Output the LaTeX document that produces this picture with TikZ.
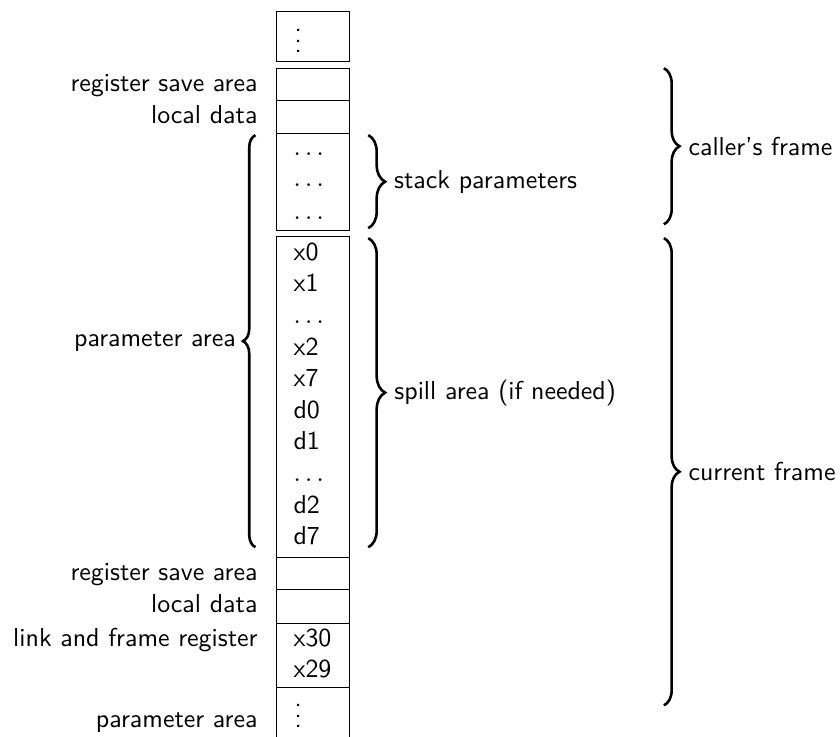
\documentclass[tikz,border=0pt]{standalone}
\usepackage{tikz}
\usetikzlibrary{decorations.pathreplacing}

\begin{document}
\begin{tikzpicture}[x=1pt, y=-1pt, font=\sffamily,
    cell/.style={draw, line width=0.4pt},
    entry/.style={anchor=base west, inner sep=0pt},
    side/.style={anchor=base east, inner sep=0pt},
    curly/.style={decorate, decoration={brace, amplitude=#1}, line width=1pt},
    tag/.style={inner sep=0pt}]

  \useasboundingbox (0,0) rectangle (323.9,283.8);

  % stack slots
  \foreach \t/\b in {4.5/23.8, 26.3/38.6, 38.6/51.4, 51.4/88.7, 91.3/214.9, 214.9/227.3, 227.3/240.4, 240.4/265.1}
    \draw[cell] (106.8,\t) rectangle (134.6,\b);
  \draw[cell] (106.8,290) |- (134.6,265.1) -- (134.6,290);

  % slot contents
  \node[entry] (top) at (113.4,20.2) {$\vdots$};
  \foreach \y [count=\i] in {59.8, 72.0, 84.6}
    \node[entry] (par\i) at (113,\y) {$\ldots$};
  \foreach \t [count=\i from 0] in {x0, x1, $\ldots$, x2, x7, d0, d1, $\ldots$, d2, d7}
    \node[entry] (spill\i) at (113,{100.3+12.2*\i}) {\t};
  \node[entry] (lr) at (113,249.4) {x30};
  \node[entry] (fp) at (113,261.2) {x29};
  \node[entry] (bottom) at (113.4,280.6) {$\vdots$};

  % names on the left
  \foreach \y/\t/\n in {35.3/register save area/rsa1, 47.6/local data/ld1,
                        223.9/register save area/rsa2, 236.3/local data/ld2,
                        249.4/link and frame register/lfr, 280.6/parameter area/pa2}
    \node[side] (\n) at (99.5,\y) {\t};

  % braces
  \draw[curly=4.8pt] (98.5,211) -- (98.5,52.1) node[midway, left=7.1pt, tag] (pa1) {parameter area};
  \draw[curly=6.5pt] (142,52.1) -- (142,88) node[midway, right=9.5pt, tag] (sp) {stack parameters};
  \draw[curly=6.5pt] (142,91.8) -- (142,211) node[midway, right=9.6pt, tag] (sa) {spill area (if needed)};
  \draw[curly=6pt] (256,26.3) -- (256,86.5) node[midway, right=9pt, tag] (cf) {caller's frame};
  \draw[curly=6pt] (256,91.8) -- (256,272) node[midway, right=9pt, tag] (cur) {current frame};

\end{tikzpicture}
\end{document}
